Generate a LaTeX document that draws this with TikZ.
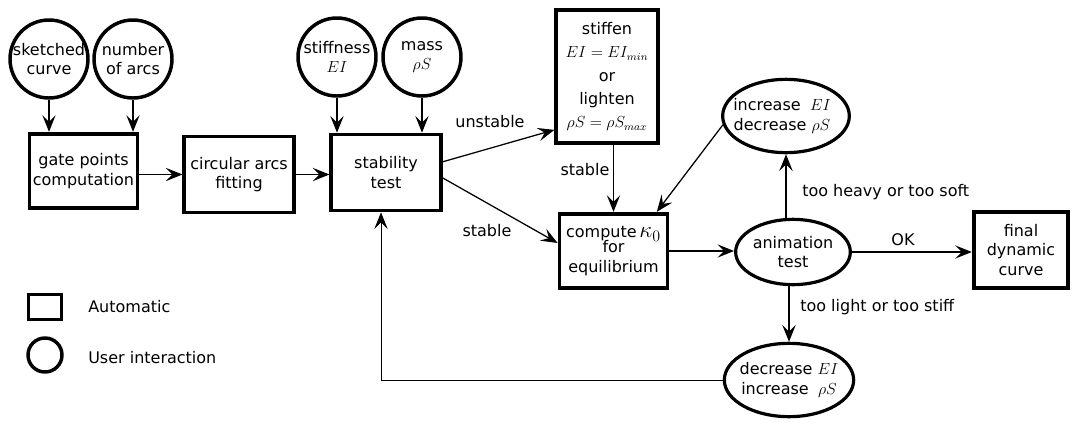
\documentclass[tikz,border=0pt]{standalone}
\usepackage{fontspec}
\setmainfont{DejaVu Sans}
\usetikzlibrary{arrows.meta,shapes.geometric,calc}
\begin{document}
\begin{tikzpicture}[x=0.75pt,y=-0.75pt,
  font=\fontsize{12}{14.5}\selectfont,
  autobox/.style={draw,line width=2.8pt,inner sep=0pt,align=center},
  usercirc/.style={draw,circle,line width=2.6pt,inner sep=0pt,minimum size=58.5pt},
  userell/.style={draw,ellipse,line width=2.4pt,inner sep=0pt},
  txt/.style={align=center,inner sep=0pt},
  conn/.style={line width=0.95pt,-{Stealth[length=12.5pt,width=10pt,inset=5pt]}},
  lbl/.style={inner sep=0pt}
]
\useasboundingbox (0,0) rectangle (1076,422);

% user circles
\node[usercirc] (sk) at (49,59) {};
\node[txt] (skt) at (sk) {sketched\\curve};
\node[usercirc] (num) at (133,59) {};
\node[txt] (numt) at (num) {number\\of arcs};
\node[usercirc] (stiff) at (337,57) {};
\node[txt] (stifft) at (stiff) {stiffness\\$EI$};
\node[usercirc] (mass) at (422,57) {};
\node[txt] (masst) at (mass) {mass\\$\rho S$};

% automatic boxes
\node[autobox,minimum width=81pt,minimum height=56pt] (gate) at (83.5,171) {gate points\\computation};
\node[autobox,minimum width=82pt,minimum height=57pt] (circ) at (239,174.5) {circular arcs\\fitting};
\node[autobox,minimum width=82pt,minimum height=57pt] (stab) at (386,172.5) {stability\\test};
\node[autobox,minimum width=76pt,minimum height=100pt,font=\fontsize{12}{17.5}\selectfont] (stiffen) at (607,76.5)
  {stiffen\\$EI=EI_{min}$\\or\\lighten\\$\rho S=\rho S_{max}$};
\node[autobox,minimum width=81pt,minimum height=56pt] (comp) at (613.5,251) {compute\,{\fontsize{17.5}{17.5}\selectfont$\kappa_0$}\\[-3pt]for\\equilibrium};
\node[autobox,minimum width=71pt,minimum height=57pt] (fin) at (1021,250) {final\\dynamic\\curve};

% ellipses
\node[userell,minimum width=95pt,minimum height=55pt] (inc) at (786,116) {};
\node[txt] (inct) at (782,116) {increase\hspace{7pt}$EI$\\decrease $\rho S$};
\node[userell,minimum width=86pt,minimum height=49pt] (anim) at (793,252) {};
\node[txt] (animt) at (anim) {animation\\test};
\node[userell,minimum width=97pt,minimum height=55pt] (dec) at (789,380) {};
\node[txt] (dect) at (789,380) {decrease $EI$\\increase\hspace{7pt}$\rho S$};

% connectors
\draw[conn] (sk.south) -- (sk.south |- gate.north);
\draw[conn] (num.south) -- (num.south |- gate.north);
\draw[conn] (gate.east |- circ.west) -- (circ.west);
\draw[conn] (circ.east) -- (circ.east -| stab.west);
\draw[conn] (stiff.south) -- (stiff.south |- stab.north);
\draw[conn] (mass.south) -- (mass.south |- stab.north);
\draw[conn] ([yshift=8pt]stab.east) -- ([yshift=-40pt]stiffen.west);
\node[lbl] (unst) at (490,122) {unstable};
\draw[conn] ([yshift=-4pt]stab.east) -- ([yshift=6pt]comp.west);
\node[lbl] (stb) at (487,231) {stable};
\draw[conn] (stiffen.south -| comp.north) -- (comp.north);
\node[lbl] (stb2) at (585,170) {stable};
\draw[conn] (inc.188) -- ([xshift=32.5pt]comp.north);
\draw[conn] (comp.east) -- (comp.east -| anim.west);
\draw[conn] (anim.north -| inc.south) -- (inc.south);
\node[lbl,anchor=west] (heavy) at (802,192) {too heavy or too soft};
\draw[conn] (anim.east) -- (anim.east -| fin.west);
\node[lbl] (ok) at (903,240) {OK};
\draw[conn] (anim.south -| dec.north) -- (dec.north);
\node[lbl,anchor=west] (light) at (800,307) {too light or too stiff};
\draw[conn,line width=0.75pt] (dec.west) -| ([xshift=-3.75pt]stab.south);

% legend
\node[draw,line width=2.6pt,minimum width=25pt,minimum height=19pt,inner sep=0pt] (legbox) at (45,307) {};
\node[lbl,anchor=west] (legboxt) at (88,307) {Automatic};
\node[draw,circle,line width=2.6pt,minimum size=25.5pt,inner sep=0pt] (legcirc) at (45,355) {};
\node[lbl,anchor=west] (legcirct) at (88,358) {User interaction};
\end{tikzpicture}
\end{document}
